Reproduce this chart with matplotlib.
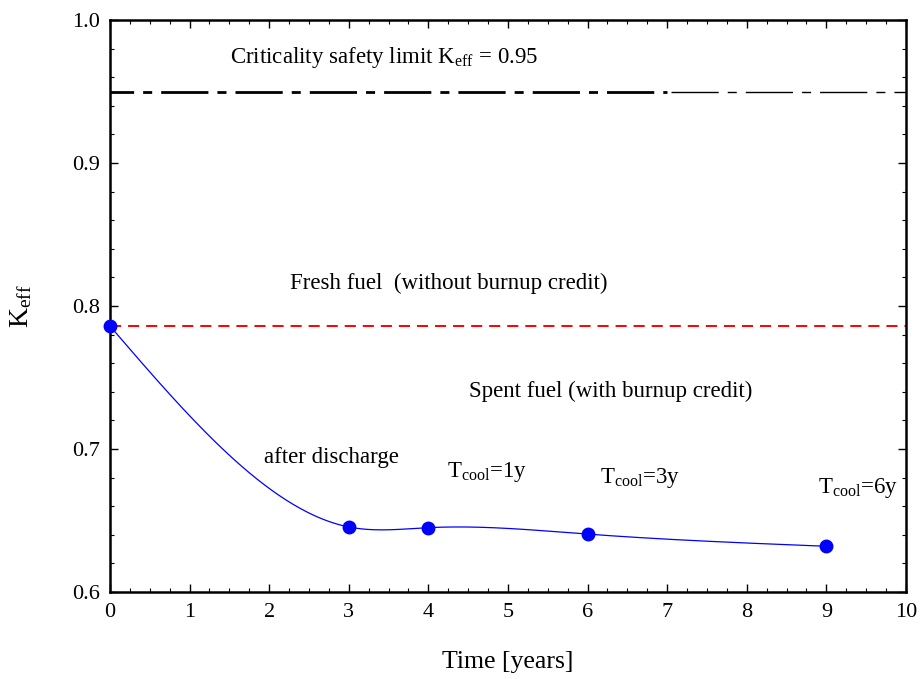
import numpy as np
import matplotlib
matplotlib.use("Agg")
import matplotlib.pyplot as plt

plt.rcParams["font.family"] = ["Liberation Serif", "DejaVu Serif"]
plt.rcParams["mathtext.fontset"] = "custom"
plt.rcParams["mathtext.rm"] = "Liberation Serif"
plt.rcParams["mathtext.it"] = "Liberation Serif:italic"
plt.rcParams["lines.scale_dashes"] = False

# data
time_years = [0, 3, 4, 6, 9]
keff_spent = [0.786, 0.6455, 0.645, 0.6405, 0.632]
keff_fresh = 0.786
keff_limit = 0.95


def natural_spline(x, y, n=400):
    # natural cubic spline, only used to draw the smooth connecting curve
    x = np.asarray(x, float)
    y = np.asarray(y, float)
    h = np.diff(x)
    m = len(x)
    A = np.zeros((m, m))
    b = np.zeros(m)
    A[0, 0] = A[-1, -1] = 1
    for i in range(1, m - 1):
        A[i, i - 1] = h[i - 1]
        A[i, i] = 2 * (h[i - 1] + h[i])
        A[i, i + 1] = h[i]
        b[i] = 6 * ((y[i + 1] - y[i]) / h[i] - (y[i] - y[i - 1]) / h[i - 1])
    M = np.linalg.solve(A, b)
    xs = np.linspace(x[0], x[-1], n)
    idx = np.clip(np.searchsorted(x, xs) - 1, 0, m - 2)
    x0, x1 = x[idx], x[idx + 1]
    hh = x1 - x0
    ys = (M[idx] * (x1 - xs) ** 3 / (6 * hh) + M[idx + 1] * (xs - x0) ** 3 / (6 * hh)
          + (y[idx] / hh - M[idx] * hh / 6) * (x1 - xs)
          + (y[idx + 1] / hh - M[idx + 1] * hh / 6) * (xs - x0))
    return xs, ys


fig = plt.figure(figsize=(9.22, 6.79), dpi=100)
ax = fig.add_axes([0.1193, 0.1281, 0.8633, 0.8424])

# safety limit: thick part then thin part
dashdot = (17, (34, 6.5, 6.5, 6.5))
ax.plot([0, 7.0], [keff_limit, keff_limit], color="black", lw=2.0, linestyle=dashdot)
ax.plot([7.05, 10], [keff_limit, keff_limit], color="black", lw=1.0,
        linestyle=(0, (34, 6.5, 6.5, 6.5)))

ax.axhline(keff_fresh, color="red", lw=1.4, linestyle=(0, (8, 5)))

xs, ys = natural_spline(time_years, keff_spent)
ax.plot(xs, ys, color="blue", lw=0.9)
ax.plot(time_years, keff_spent, "o", color="blue", ms=9, clip_on=False, zorder=5)

ax.set_xlim(0, 10)
ax.set_ylim(0.6, 1.0)
ax.set_xticks(range(0, 11))
ax.set_yticks([0.6, 0.7, 0.8, 0.9, 1.0])
ax.set_xticks(np.arange(0, 10.01, 0.25), minor=True)
ax.set_yticks(np.arange(0.6, 1.001, 0.02), minor=True)
ax.tick_params(which="both", direction="in", top=True, right=True, labelsize=16)
ax.tick_params(which="major", length=6, width=1)
ax.tick_params(which="minor", length=3, width=0.8)
ax.tick_params(axis="x", pad=8)
ax.tick_params(axis="y", pad=7)
for s in ax.spines.values():
    s.set_linewidth(1.8)

ax.set_xlabel("Time [years]", fontsize=18.5)
ax.set_ylabel(r"K$_{\mathrm{eff}}$", fontsize=20)
ax.xaxis.set_label_coords(0.5, -0.103)
ax.yaxis.set_label_coords(-0.095, 0.5)

fs = 16.5
ax.text(3.45, 0.974, r"Criticality safety limit K$_{\mathrm{eff}}$ = 0.95",
        ha="center", va="center", fontsize=fs)
ax.text(4.25, 0.816, "Fresh fuel  (without burnup credit)", ha="center", va="center", fontsize=fs)
ax.text(6.29, 0.7406, "Spent fuel (with burnup credit)", ha="center", va="center", fontsize=fs)
ax.text(2.78, 0.694, "after discharge", ha="center", va="center", fontsize=fs)
ax.text(4.74, 0.684, r"T$_{\mathrm{cool}}$=1y", ha="center", va="center", fontsize=fs)
ax.text(6.66, 0.680, r"T$_{\mathrm{cool}}$=3y", ha="center", va="center", fontsize=fs)
ax.text(9.4, 0.673, r"T$_{\mathrm{cool}}$=6y", ha="center", va="center", fontsize=fs)

fig.savefig("out.png", dpi=100)
